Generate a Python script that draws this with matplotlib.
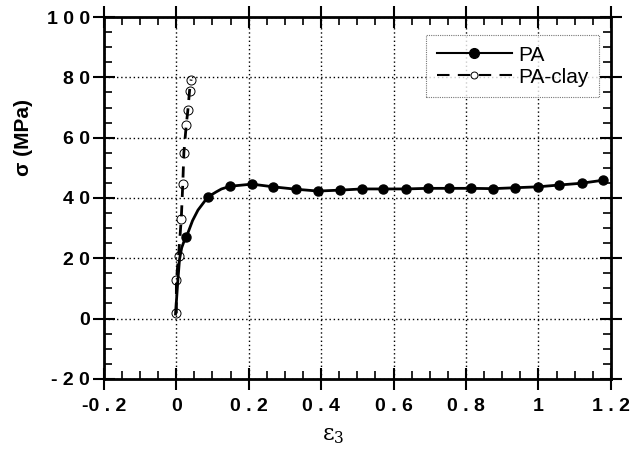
import matplotlib.pyplot as plt
from matplotlib.lines import Line2D
from matplotlib.ticker import MultipleLocator, FixedLocator

# PA: marker points
pa_eps = [0.028, 0.087, 0.149, 0.209, 0.268, 0.331, 0.391, 0.451, 0.512, 0.572,
          0.633, 0.694, 0.754, 0.814, 0.875, 0.935, 0.998, 1.057, 1.119, 1.179]
pa_sig = [27.1, 40.3, 43.9, 44.6, 43.7, 42.9, 42.3, 42.6, 43.0, 43.0,
          43.0, 43.2, 43.2, 43.2, 43.1, 43.4, 43.7, 44.3, 44.9, 45.9]

# PA: extra points along the drawn curve near the origin (no markers there)
pa_start_eps = [-0.002, 0.004, 0.009, 0.015, 0.022]
pa_start_sig = [1.5, 12.0, 19.7, 23.5, 25.8]
pa_knee_eps = [0.045, 0.06, 0.11, 0.125]
pa_knee_sig = [32.5, 36.0, 42.0, 43.0]

# PA-clay: open circles
clay_eps = [0.0, 0.0004, 0.0063, 0.0138, 0.018, 0.021, 0.0276, 0.032, 0.0367, 0.041]
clay_sig = [1.7, 12.7, 20.8, 33.0, 44.7, 55.0, 64.3, 69.1, 75.6, 79.3]

x_ticks = [-0.2, 0, 0.2, 0.4, 0.6, 0.8, 1.0, 1.2]
x_labels = ['-0 . 2', '0', '0 . 2', '0 . 4', '0 . 6', '0 . 8', '1', '1 . 2']
y_ticks = [-20, 0, 20, 40, 60, 80, 100]
y_labels = ['- 2 0', '0', '2 0', '4 0', '6 0', '8 0', '1 0 0']

plt.rcParams['font.family'] = ['Liberation Sans', 'DejaVu Sans']

fig = plt.figure(figsize=(6.37, 4.51), dpi=100)
ax = fig.add_axes([0.163, 0.160, 0.796, 0.802])

# PA curve: merge curve-only points with marker points, sorted by strain
curve = sorted(zip(pa_start_eps + pa_eps[:2] + pa_knee_eps + pa_eps[2:],
                   pa_start_sig + pa_sig[:2] + pa_knee_sig + pa_sig[2:]))
cx, cy = zip(*curve)
ax.plot(cx, cy, '-', color='black', lw=2.0, zorder=3)
ax.plot(pa_eps, pa_sig, 'o', color='black', ms=6.5, zorder=4)

ax.plot(clay_eps, clay_sig, color='black', lw=2.0, dashes=(4, 3),
        marker='o', mfc='none', mec='black', ms=6.5, mew=0.7, zorder=3)

ax.set_xlim(-0.2, 1.2)
ax.set_ylim(-20, 100)
ax.xaxis.set_major_locator(FixedLocator(x_ticks))
ax.yaxis.set_major_locator(FixedLocator(y_ticks))
ax.set_xticklabels(x_labels)
ax.set_yticklabels(y_labels)
ax.xaxis.set_minor_locator(MultipleLocator(0.05))
ax.yaxis.set_minor_locator(MultipleLocator(5))

for lab in ax.get_xticklabels() + ax.get_yticklabels():
    lab.set_fontweight('bold')
    lab.set_fontsize(14)

ax.tick_params(which='major', direction='inout', length=16, width=1.5,
               top=True, right=True)
ax.tick_params(axis='x', which='major', pad=6)
ax.tick_params(axis='y', which='major', pad=2)
ax.tick_params(which='minor', direction='in', length=6, width=1.2,
               top=True, right=True)
for s in ax.spines.values():
    s.set_linewidth(2)

ax.grid(True, which='major', color='black', linestyle=(0, (1, 2)), linewidth=1)

fig.text(0.037, 0.695, 'σ (MPa)', rotation=90, ha='center', va='center',
         fontsize=15, fontweight='bold')
fig.text(0.523, 0.036, r'$\mathregular{\varepsilon_3}$', ha='center', va='center',
         fontsize=16, family='DejaVu Serif')

handles = [
    Line2D([], [], color='black', lw=1.5, marker='o', ms=7),
    Line2D([], [], color='black', lw=1.5, dashes=(6, 4), marker='o', mfc='none',
           mec='black', ms=5, mew=0.7),
]
leg = ax.legend(handles, ['PA', 'PA-clay'], loc='upper right',
                bbox_to_anchor=(0.976, 0.95), borderaxespad=0, fontsize=15,
                frameon=True, fancybox=False, handlelength=3.6, handletextpad=0.3,
                borderpad=0.5, labelspacing=0.15)
leg.get_frame().set_edgecolor('#555555')
leg.get_frame().set_linestyle((0, (1, 1)))
leg.get_frame().set_linewidth(0.8)

fig.savefig('out.png', dpi=100)
